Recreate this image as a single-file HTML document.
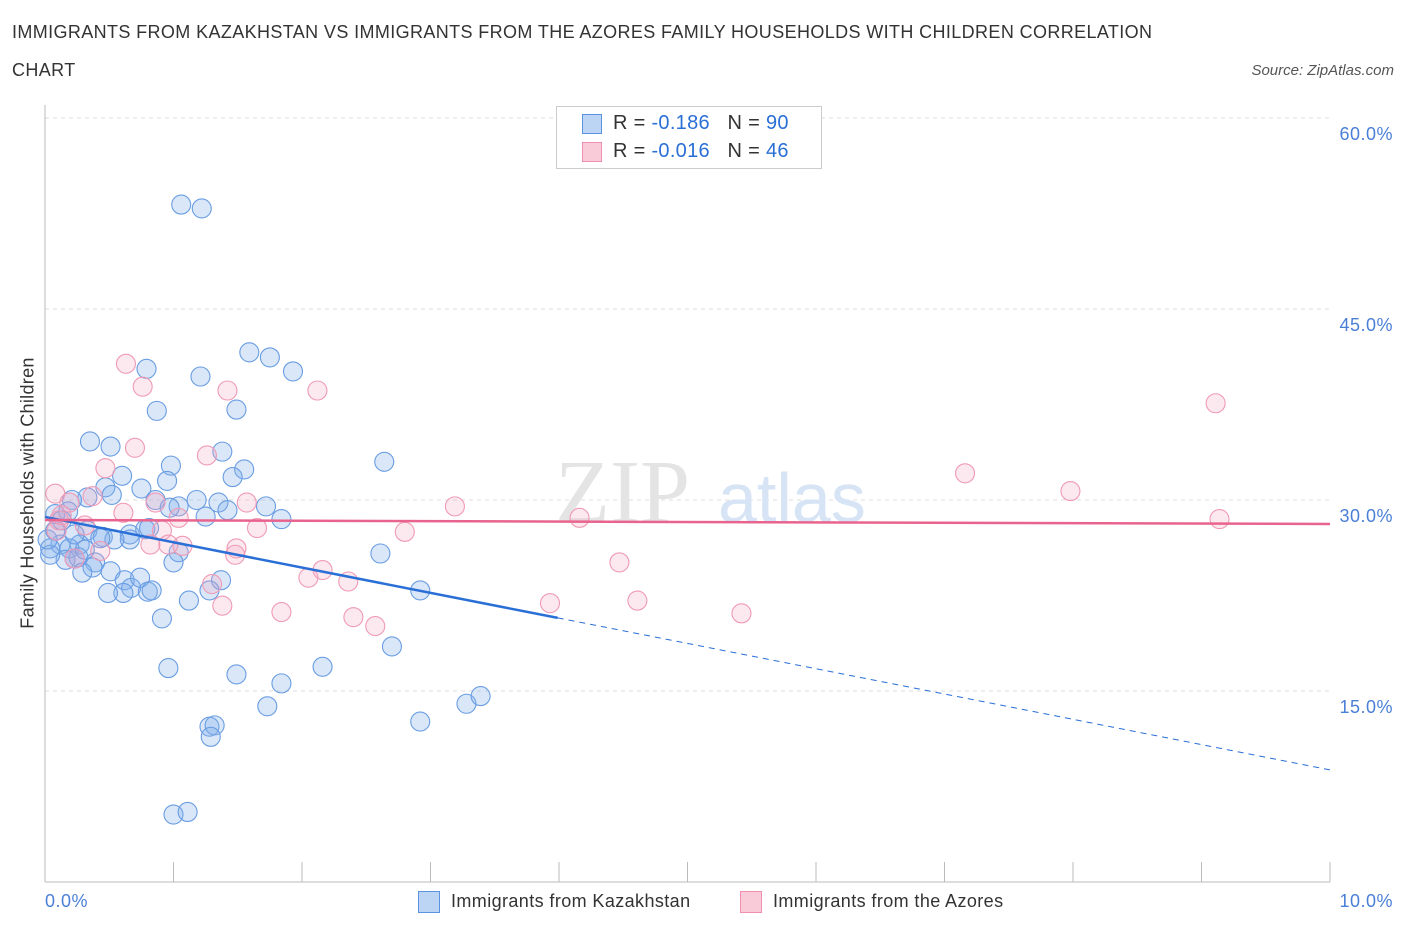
<!DOCTYPE html>
<html><head><meta charset="utf-8"><style>
body{margin:0;background:#fff;font-family:"Liberation Sans",sans-serif}
#wrap{position:relative;width:1406px;height:930px;overflow:hidden}
.t{position:absolute;color:#333;font-size:18px}
</style></head><body>
<div id="wrap">
<div class="t" style="left:12px;top:22px;letter-spacing:0.38px">IMMIGRANTS FROM KAZAKHSTAN VS IMMIGRANTS FROM THE AZORES FAMILY HOUSEHOLDS WITH CHILDREN CORRELATION</div>
<div class="t" style="left:12px;top:60px;letter-spacing:0.38px">CHART</div>
<div class="t" style="right:12px;top:62px;font-size:15px;font-style:italic;color:#555">Source: ZipAtlas.com</div>
<svg id="svg" width="1406" height="930" style="position:absolute;left:0;top:0"></svg>
</div>
<script>
const blueX=[1.06,1.22,1.59,1.75,1.93,0.79,1.21,0.87,1.49,0.35,0.51,1.38,0.98,2.64,1.55,0.60,0.47,0.75,0.95,0.33,0.21,0.52,0.86,1.18,1.35,1.42,1.04,1.25,1.72,1.84,0.18,0.08,0.33,0.45,0.66,0.78,0.66,0.81,0.54,0.43,0.27,0.12,0.04,0.19,0.26,0.39,0.16,0.23,0.37,0.51,0.29,0.62,0.67,0.80,0.83,0.61,0.49,1.04,1.00,2.61,1.37,1.12,0.91,2.92,2.70,0.96,1.49,2.16,1.84,1.73,3.28,3.39,1.28,1.32,1.29,2.92,1.00,1.11,0.04,0.02,0.08,0.13,0.97,0.74,1.46,0.23,0.31,1.28];
const blueY=[53.2,52.9,41.6,41.2,40.1,40.3,39.7,37.0,37.1,34.6,34.2,33.8,32.7,33.0,32.4,31.9,31.0,30.9,31.5,30.2,30.0,30.4,30.0,30.0,29.8,29.2,29.5,28.7,29.5,28.5,29.1,28.9,27.6,27.1,27.3,27.7,26.9,27.8,26.9,27.0,26.5,26.5,26.2,26.2,25.5,25.1,25.3,25.4,24.7,24.4,24.3,23.7,23.1,22.8,22.9,22.7,22.7,25.9,25.1,25.8,23.7,22.1,20.7,22.9,18.5,16.8,16.3,16.9,15.6,13.8,14.0,14.6,12.2,12.3,11.4,12.6,5.3,5.5,25.7,26.9,27.6,28.4,29.4,23.9,31.8,27.3,26.1,22.9];
const pinkX=[0.63,0.76,2.12,1.42,0.70,1.26,0.47,0.37,0.08,0.19,0.86,1.57,1.04,3.19,4.16,0.11,0.31,0.61,0.91,1.65,2.80,0.82,1.07,1.49,0.96,0.43,1.48,0.23,4.47,2.16,2.36,1.30,2.05,3.93,4.61,1.38,1.84,2.40,2.57,5.42,7.16,7.98,9.11,9.14,0.09,0.13];
const pinkY=[40.7,38.9,38.6,38.6,34.1,33.5,32.5,30.3,30.5,29.8,29.8,29.8,28.6,29.5,28.6,28.4,28.0,29.0,27.6,27.8,27.5,26.5,26.4,26.2,26.5,26.0,25.7,25.4,25.1,24.5,23.6,23.4,23.9,21.9,22.1,21.7,21.2,20.8,20.1,21.1,32.1,30.7,37.6,28.5,27.6,28.8];
const blueTrend=[28.67,8.8]; // y at x=0 and x=10
const pinkTrend=[28.43,28.12];
const yTicks=[15,30,45,60];
const yTickLabels=["15.0%","30.0%","45.0%","60.0%"];
const xTicks=[1,2,3,4,5,6,7,8,9,10];

const NS="http://www.w3.org/2000/svg";
const svg=document.getElementById('svg');
const X=v=>45+v*128.5, Y=v=>882-v*12.733;
function el(tag,a,p){const e=document.createElementNS(NS,tag);for(const k in a)e.setAttribute(k,a[k]);(p||svg).appendChild(e);return e;}

yTicks.forEach((t,i)=>{
  const g=el('line',{x1:45,x2:1330,y1:Y(t),y2:Y(t),stroke:'#ddd','stroke-dasharray':'4,4'});
  
  
  const tx=el('text',{x:1393,y:Y(t)+22,'text-anchor':'end','font-size':18,fill:'#4a7fd6','font-family':'Liberation Sans','letter-spacing':0.5});
  tx.textContent=yTickLabels[i];
  
  
});
let a=el('line',{x1:45,x2:45,y1:105,y2:882,stroke:'#bbb'});


a=el('line',{x1:45,x2:1330,y1:882,y2:882,stroke:'#bbb'});


xTicks.forEach(t=>{
  const l=el('line',{x1:X(t),x2:X(t),y1:862,y2:882,stroke:'#bbb'});
  
  
});
let w=el('text',{x:555,y:522,'font-size':90,fill:'#e4e4e4','font-family':'Liberation Serif'});w.textContent='ZIP';


w=el('text',{x:718,y:522,'font-size':70,fill:'#d6e4f5','font-family':'Liberation Sans'});w.textContent='atlas';



blueX.forEach((x,i)=>{
  const c=el('circle',{cx:X(x),cy:Y(blueY[i]),r:9.5,fill:'rgba(130,175,235,0.3)',stroke:'#6a9de2','stroke-width':1.1});
  
  
});
pinkX.forEach((x,i)=>{
  const c=el('circle',{cx:X(x),cy:Y(pinkY[i]),r:9.5,fill:'rgba(245,165,190,0.25)',stroke:'#f09ab5','stroke-width':1.1});
  
  
});
const bAt=x=>blueTrend[0]+(blueTrend[1]-blueTrend[0])*x/10;
let l=el('line',{x1:X(0),y1:Y(bAt(0)),x2:X(3.99),y2:Y(bAt(3.99)),stroke:'#2a6fd6','stroke-width':2.5});


l=el('line',{x1:X(3.99),y1:Y(bAt(3.99)),x2:X(10),y2:Y(bAt(10)),stroke:'#2a6fd6','stroke-width':1,'stroke-dasharray':'6,5'});


l=el('line',{x1:X(0),y1:Y(pinkTrend[0]),x2:X(10),y2:Y(pinkTrend[1]),stroke:'#e8648e','stroke-width':2.5});


</script>
<div style="position:absolute;left:556px;top:106px;width:264px;height:61px;border:1px solid #ccc;background:#fff;font-size:20px">
 <div style="position:absolute;left:25px;top:7px;width:18px;height:18px;background:#bcd5f5;border:1px solid #5b93e0"></div>
 <div style="position:absolute;left:56px;top:5px;color:#333;letter-spacing:0.3px">R = <span style="color:#2a6fd6">-0.186</span>&nbsp;&nbsp;&nbsp;N = <span style="color:#2a6fd6">90</span></div>
 <div style="position:absolute;left:25px;top:35px;width:18px;height:18px;background:#f9cbd9;border:1px solid #ef8fae"></div>
 <div style="position:absolute;left:56px;top:33px;color:#333;letter-spacing:0.3px">R = <span style="color:#2a6fd6">-0.016</span>&nbsp;&nbsp;&nbsp;N = <span style="color:#2a6fd6">46</span></div>
</div>
<div style="position:absolute;left:45px;top:891px;font-size:18px;color:#4a7fd6;letter-spacing:0.5px">0.0%</div>
<div style="position:absolute;right:13px;top:891px;font-size:18px;color:#4a7fd6;letter-spacing:0.5px">10.0%</div>
<div style="position:absolute;left:418px;top:891px;width:20px;height:20px;background:#bcd5f5;border:1px solid #5b93e0"></div>
<div style="position:absolute;left:451px;top:891px;font-size:18px;color:#333;letter-spacing:0.4px">Immigrants from Kazakhstan</div>
<div style="position:absolute;left:740px;top:891px;width:20px;height:20px;background:#f9cbd9;border:1px solid #ef8fae"></div>
<div style="position:absolute;left:773px;top:891px;font-size:18px;color:#333;letter-spacing:0.4px">Immigrants from the Azores</div>
<div style="position:absolute;left:28px;top:493px;transform:translate(-50%,-50%) rotate(-90deg);font-size:18px;color:#333;white-space:nowrap;letter-spacing:0.3px">Family Households with Children</div>
</body></html>
